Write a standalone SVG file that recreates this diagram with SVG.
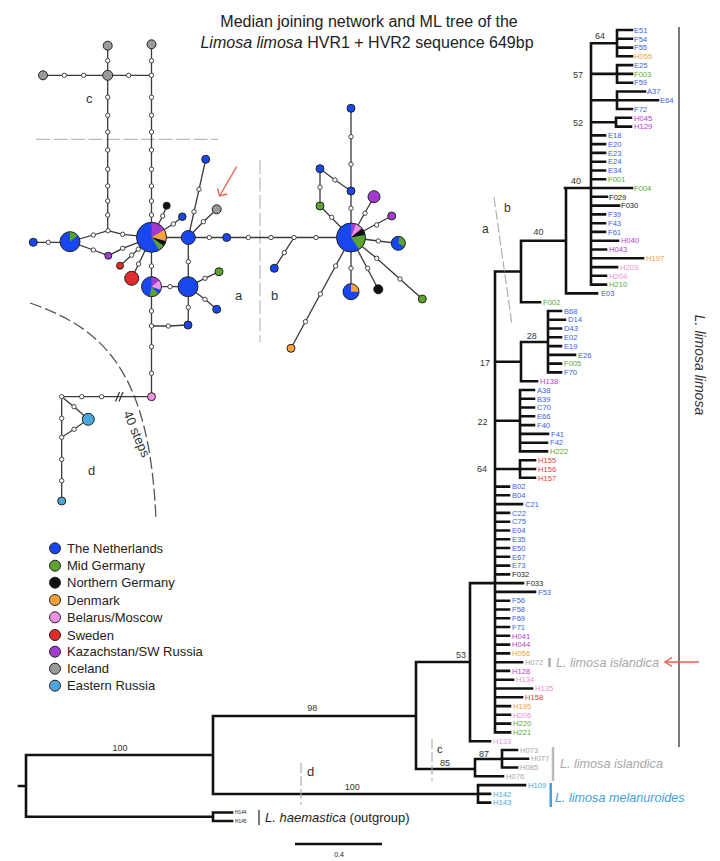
<svg xmlns="http://www.w3.org/2000/svg" width="720" height="861" viewBox="0 0 720 861">
<style>
text{font-family:"Liberation Sans",Arial,sans-serif}
.e{stroke:#3a3a3a;stroke-width:1.3;fill:none}
.m{fill:#fff;stroke:#333;stroke-width:0.9}
.n{stroke:#222;stroke-width:1}
.tr{stroke:#111;stroke-width:2.6;fill:none;stroke-linecap:square}
.lf{font-size:7.6px}
.bs{font-size:9px;fill:#333;text-anchor:middle}
.gd{stroke:#bbb;stroke-width:1.2;fill:none;stroke-dasharray:14 3.5}
.td{stroke:#aaa;stroke-width:1.1;fill:none;stroke-dasharray:10 3}
.lab{font-size:13px;fill:#333}
.cb{fill:#1846f0}.cg{fill:#5ba52e}.ck{fill:#111}.co{fill:#f7a23b}.cp{fill:#f490e6}.cr{fill:#e32b2b}.cu{fill:#a43bd0}.cy{fill:#9a9a9a}.cl{fill:#4aa6dc}
.tb{fill:#3a62e6}.tg{fill:#5ca832}.tk{fill:#222}.to{fill:#f0a040}.tp{fill:#f08ee0}.tx{fill:#e04040}.tu{fill:#b040cc}.ty{fill:#a8a8a8}.tl{fill:#4aa6dc}
</style>
<rect width="720" height="861" fill="#fff"/>

<g id="title" fill="#222">
<text x="369" y="27" font-size="16" text-anchor="middle">Median joining network and ML tree of the</text>
<text x="367" y="48" font-size="16" text-anchor="middle"><tspan font-style="italic">Limosa limosa</tspan> HVR1 + HVR2 sequence 649bp</text>
</g>

<!-- network guides -->
<g id="guides">
<line class="gd" x1="36" y1="139.3" x2="218" y2="139.3"/>
<line class="gd" x1="260" y1="160" x2="260" y2="342"/>
<path d="M30 303 C110 330 150 380 156 520" fill="none" stroke="#555" stroke-width="1.3" stroke-dasharray="12 4"/>
<text class="lab" x="86" y="103">c</text>
<text class="lab" x="235" y="300">a</text>
<text class="lab" x="271" y="300">b</text>
<text class="lab" x="88" y="475">d</text>
<text class="lab" transform="translate(123,413) rotate(67)">40 steps</text>
<line x1="236.7" y1="166.7" x2="219.5" y2="196" stroke="#e8604c" stroke-width="1.3"/>
<polyline points="227.2,194 219.5,196 217.6,188.3" fill="none" stroke="#e8604c" stroke-width="1.3"/>
</g>

<g id="network-edges">
<path class="e" d="M43 75.3H151 M107.7 45.7V230.7 M151.5 44.3V237.3 M108 230.7L93.3 235L70 241.7 M108 230.7L122.7 234.3L151.5 237.3 M70 242.3H33.3 M70 241.7L93.3 250L108.3 255.7L122.7 248.3L151.5 237.3 M151.5 237.3L162.7 216L166.7 205.7 M151.5 237.3L173.3 224L182.3 216.7 M151.5 237.5H351 M188.3 237.5L205.7 159.3 M188.3 237.5L203.3 221.7L216.7 209.3 M188.3 237.5V325 M188 286.7L205 278.3L219 271.7 M188 286.7L205 299.3L216.7 309.3 M188 325L168.3 326H151.5 M188 286.7H151.5 M151.5 237.3V396.7 M151.5 237.3L120 265.7 M151.5 237.3L131.7 278.3"/>
<path class="e" d="M151.5 396.7H61.7V501 M61.7 396.7L74 406.7L88.3 419.3 M61.7 437.3L74 429.3L88.3 419.3"/>
<path class="e" d="M115.5 401.5L119.5 392 M119 401.5L123 392"/>
<path class="e" d="M294 237.5L274.3 268.3 M351 237.5V108.3 M351 191L335 180L320 168.7V206L351 237.5 M351 237.5L374 196.7 M351 237.5L391.7 216 M351 237.5L378.3 241L398.3 243.3 M351 237.5L376.7 258.3L422.3 299 M351 237.5L378.3 289.3 M351 237.5V291.7 M351 237.5L291 348.3"/>
</g>

<g id="median-vectors">
<circle class="m" r="2.2" cx="64.3" cy="75.3"/><circle class="m" r="2.2" cx="83.7" cy="75.3"/><circle class="m" r="2.2" cx="128.7" cy="75.3"/><circle class="m" r="2.2" cx="151.5" cy="75.3"/>
<circle class="m" r="2.2" cx="107.7" cy="60.7"/><circle class="m" r="2.2" cx="151.5" cy="60.7"/>
<circle class="m" r="2.2" cx="107.7" cy="97.3"/><circle class="m" r="2.2" cx="107.7" cy="115.3"/><circle class="m" r="2.2" cx="107.7" cy="132"/><circle class="m" r="2.2" cx="107.7" cy="150"/><circle class="m" r="2.2" cx="107.7" cy="169.3"/><circle class="m" r="2.2" cx="107.7" cy="186"/><circle class="m" r="2.2" cx="107.7" cy="201"/><circle class="m" r="2.2" cx="107.7" cy="215"/><circle class="m" r="2.2" cx="108" cy="230.7"/>
<circle class="m" r="2.2" cx="151.5" cy="97.3"/><circle class="m" r="2.2" cx="151.5" cy="115.3"/><circle class="m" r="2.2" cx="151.5" cy="132"/><circle class="m" r="2.2" cx="151.5" cy="150"/><circle class="m" r="2.2" cx="151.5" cy="169.3"/><circle class="m" r="2.2" cx="151.5" cy="186"/><circle class="m" r="2.2" cx="151.5" cy="201"/><circle class="m" r="2.2" cx="151.5" cy="215"/>
<circle class="m" r="2.2" cx="93.3" cy="235"/><circle class="m" r="2.2" cx="122.7" cy="234.3"/><circle class="m" r="2.2" cx="48.3" cy="242.3"/><circle class="m" r="2.2" cx="93.3" cy="250"/><circle class="m" r="2.2" cx="122.7" cy="248.3"/>
<circle class="m" r="2.2" cx="162.7" cy="216"/><circle class="m" r="2.2" cx="173.3" cy="224"/><circle class="m" r="2.2" cx="194" cy="211.7"/><circle class="m" r="2.2" cx="199" cy="189.3"/><circle class="m" r="2.2" cx="203.3" cy="221.7"/>
<circle class="m" r="2.2" cx="209.3" cy="237.5"/><circle class="m" r="2.2" cx="248.3" cy="237.5"/><circle class="m" r="2.2" cx="188.3" cy="261.7"/><circle class="m" r="2.2" cx="205" cy="278.3"/><circle class="m" r="2.2" cx="205" cy="299.3"/><circle class="m" r="2.2" cx="188.3" cy="307.3"/><circle class="m" r="2.2" cx="168.3" cy="326"/><circle class="m" r="2.2" cx="151.5" cy="326"/><circle class="m" r="2.2" cx="170" cy="286.7"/><circle class="m" r="2.2" cx="151.5" cy="266"/><circle class="m" r="2.2" cx="151.5" cy="311"/>
<circle class="m" r="2.2" cx="138.3" cy="249.2"/><circle class="m" r="2.2" cx="131.7" cy="255.2"/><circle class="m" r="2.2" cx="138.6" cy="264"/>
<circle class="m" r="2.2" cx="151.5" cy="346.7"/><circle class="m" r="2.2" cx="151.5" cy="373.3"/><circle class="m" r="2.2" cx="101.7" cy="396.7"/><circle class="m" r="2.2" cx="81.7" cy="396.7"/><circle class="m" r="2.2" cx="61.7" cy="396.7"/><circle class="m" r="2.2" cx="74" cy="406.7"/><circle class="m" r="2.2" cx="61.7" cy="418.3"/><circle class="m" r="2.2" cx="61.7" cy="437.3"/><circle class="m" r="2.2" cx="74" cy="429.3"/><circle class="m" r="2.2" cx="61.7" cy="459.3"/><circle class="m" r="2.2" cx="61.7" cy="480.7"/>
<circle class="m" r="2.2" cx="271" cy="237.5"/><circle class="m" r="2.2" cx="294" cy="237.5"/><circle class="m" r="2.2" cx="316" cy="237.5"/><circle class="m" r="2.2" cx="284.3" cy="252.7"/><circle class="m" r="2.2" cx="351" cy="208.3"/><circle class="m" r="2.2" cx="351" cy="164.3"/><circle class="m" r="2.2" cx="351" cy="136.7"/><circle class="m" r="2.2" cx="335" cy="180"/><circle class="m" r="2.2" cx="320" cy="187.3"/><circle class="m" r="2.2" cx="331.7" cy="217.3"/>
<circle class="m" r="2.2" cx="365" cy="213.3"/><circle class="m" r="2.2" cx="376.7" cy="225"/><circle class="m" r="2.2" cx="378.3" cy="241"/><circle class="m" r="2.2" cx="376.7" cy="258.3"/><circle class="m" r="2.2" cx="400" cy="279"/><circle class="m" r="2.2" cx="367.7" cy="268.3"/><circle class="m" r="2.2" cx="351" cy="268.3"/><circle class="m" r="2.2" cx="335.6" cy="266"/><circle class="m" r="2.2" cx="320.4" cy="294"/><circle class="m" r="2.2" cx="305.4" cy="321.7"/>
</g>

<g id="haplotypes">
<circle id="hc1" class="n cy" cx="43" cy="75.3" r="4.5"/>
<circle id="hc2" class="n cy" cx="107.7" cy="45.7" r="4.5"/>
<circle id="hc3" class="n cy" cx="151.5" cy="44.3" r="4.5"/>
<circle id="hc4" class="n cy" cx="107.7" cy="75.3" r="5"/>
<circle id="ha-ice" class="n cy" cx="216.7" cy="209.3" r="4.5"/>
<circle class="n cb" cx="33.3" cy="242.3" r="4"/>
<circle class="n cb" cx="182.3" cy="216.7" r="3.8"/>
<circle class="n cb" cx="188.3" cy="237.5" r="7"/>
<circle class="n cb" cx="205.7" cy="159.3" r="4"/>
<circle class="n cb" cx="226.7" cy="237.5" r="4"/>
<circle class="n cb" cx="188" cy="286.7" r="10"/>
<circle class="n cb" cx="216.7" cy="309.3" r="4"/>
<circle class="n cb" cx="188" cy="325" r="4"/>
<circle class="n cb" cx="274.3" cy="268.3" r="4"/>
<circle class="n cb" cx="351" cy="191" r="4"/>
<circle class="n cb" cx="351" cy="108.3" r="4"/>
<circle class="n cb" cx="320" cy="168.7" r="4"/>
<circle class="n cg" cx="219" cy="271.7" r="4"/>
<circle class="n cg" cx="320" cy="206" r="4"/>
<circle class="n cg" cx="422.3" cy="299" r="4"/>
<circle class="n ck" cx="166.7" cy="205.7" r="3.5"/>
<circle class="n ck" cx="378.3" cy="289.3" r="4.5"/>
<circle class="n cu" cx="108.3" cy="255.7" r="3.5"/>
<circle class="n cu" cx="374" cy="196.7" r="6"/>
<circle class="n cu" cx="391.7" cy="216" r="4"/>
<circle class="n cr" cx="120" cy="265.7" r="3.5"/>
<circle class="n cr" cx="131.7" cy="278.3" r="7"/>
<circle class="n cp" cx="151.5" cy="396.7" r="4"/>
<circle class="n cl" cx="88.3" cy="419.3" r="6"/>
<circle class="n cl" cx="61.7" cy="501" r="4"/>
<circle class="n co" cx="291" cy="348.3" r="4"/>
<g id="pie-left">
<circle class="cb" cx="70" cy="241.7" r="10"/>
<path class="cg" d="M70 241.7L70 231.7A10 10 0 0 1 77.66 235.27Z"/>
<circle cx="70" cy="241.7" r="10" fill="none" stroke="#222"/>
</g>
<g id="pie-center-a">
<circle class="cb" cx="151.5" cy="237.3" r="15"/>
<path class="cu" d="M151.5 237.3L151.5 222.3A15 15 0 0 1 164.49 229.8Z"/>
<path class="co" d="M151.5 237.3L164.49 229.8A15 15 0 0 1 165.99 241.18Z"/>
<path class="ck" d="M151.5 237.3L165.99 241.18A15 15 0 0 1 163.79 245.9Z"/>
<path class="cg" d="M151.5 237.3L163.79 245.9A15 15 0 0 1 159 250.29Z"/>
<circle cx="151.5" cy="237.3" r="15" fill="none" stroke="#222"/>
</g>
<g id="pie-lower-a">
<circle class="cb" cx="151.5" cy="286.7" r="10"/>
<path class="cu" d="M151.5 286.7L151.5 276.7A10 10 0 0 1 159.16 280.27Z"/>
<path class="cp" d="M151.5 286.7L159.16 280.27A10 10 0 0 1 160.9 290.12Z"/>
<path class="cg" d="M151.5 286.7L158.57 293.77A10 10 0 0 1 149.76 296.55Z"/>
<circle cx="151.5" cy="286.7" r="10" fill="none" stroke="#222"/>
</g>
<g id="pie-center-b">
<circle class="cb" cx="351" cy="237.5" r="14.5"/>
<path class="cu" d="M351 237.5L351 223A14.5 14.5 0 0 1 355.96 223.87Z"/>
<path class="cp" d="M351 237.5L355.96 223.87A14.5 14.5 0 0 1 362.11 228.18Z"/>
<path class="ck" d="M351 237.5L362.11 228.18A14.5 14.5 0 0 1 365.28 234.98Z"/>
<path class="cg" d="M351 237.5L365.28 234.98A14.5 14.5 0 0 1 359.32 249.38Z"/>
<circle cx="351" cy="237.5" r="14.5" fill="none" stroke="#222"/>
</g>
<g id="pie-right-b">
<circle class="cb" cx="398.3" cy="243.3" r="7"/>
<path class="cg" d="M398.3 243.3L399.52 236.41A7 7 0 0 1 404.36 246.8Z"/>
<circle cx="398.3" cy="243.3" r="7" fill="none" stroke="#222"/>
</g>
<g id="pie-low-b">
<circle class="cb" cx="351" cy="291.7" r="8"/>
<path class="co" d="M351 291.7L351 283.7A8 8 0 0 1 359 291.7Z"/>
<circle cx="351" cy="291.7" r="8" fill="none" stroke="#222"/>
</g>
</g>

<g id="legend" font-size="13" fill="#222">
<circle class="n cb" cx="55" cy="548.3" r="5.5" stroke-width="1.2"/><text x="67" y="553">The Netherlands</text>
<circle class="n cg" cx="55" cy="565.7" r="5.5" stroke-width="1.2"/><text x="67" y="570.4">Mid Germany</text>
<circle class="n ck" cx="55" cy="582.7" r="5.5" stroke-width="1.2"/><text x="67" y="587.4">Northern Germany</text>
<circle class="n co" cx="55" cy="600" r="5.5" stroke-width="1.2"/><text x="67" y="604.7">Denmark</text>
<circle class="n cp" cx="55" cy="617.3" r="5.5" stroke-width="1.2"/><text x="67" y="622">Belarus/Moscow</text>
<circle class="n cr" cx="55" cy="635" r="5.5" stroke-width="1.2"/><text x="67" y="639.7">Sweden</text>
<circle class="n cu" cx="55" cy="651.7" r="5.5" stroke-width="1.2"/><text x="67" y="656.4">Kazachstan/SW Russia</text>
<circle class="n cy" cx="55" cy="668.7" r="5.5" stroke-width="1.2"/><text x="67" y="673.4">Iceland</text>
<circle class="n cl" cx="55" cy="685.7" r="5.5" stroke-width="1.2"/><text x="67" y="690.4">Eastern Russia</text>
</g>

<g id="tree-branches">
<path class="tr" d="M591 43.2V284.6 M591 43.2H617 M617 30V56.3 M617 30H632 M617 38.8H632 M617 47.6H632 M617 56.3H632
M591 73.9H617 M617 65.1V82.7 M617 65.1H632 M617 73.9H632 M617 82.7H632
M591 100.2H617 M617 91.5V109 M617 91.5H645 M617 100.2H658 M617 109H632
M591 122.2H616 M616 117.8V126.6 M616 117.8H631 M616 126.6H631
M591 135.4H605 M591 144.1H605 M591 152.9H605 M591 161.7H605 M591 170.5H605 M591 179.3H605
M565 188H632 M591 196.8H607 M591 205.6H619 M591 214.4H605 M591 223.2H605 M591 231.9H605 M591 240.7H618 M591 249.5H606 M591 258.3H643 M591 267.1H617 M591 275.8H606 M591 284.6H606
M566 188V293.4H597 M521 240.7H566 M521 240.7V302.2H540 M495 271.5H521 M495 271.5V732.4
M495 361.7H521 M521 342V381.2H537 M521 342H548 M548 311V372.4
M548 311H561 M548 319.7H565 M548 328.5H561 M548 337.3H561 M548 346.1H561 M548 354.9H575 M548 363.6H561 M548 372.4H561
M495 420.7H520 M520 390V451.4 M520 390H534 M520 398.8H534 M520 407.5H534 M520 416.3H534 M520 425.1H534 M520 433.9H548 M520 442.7H547 M520 451.4H547
M495 469H520 M520 460.2V477.8 M520 460.2H535 M520 469H535 M520 477.8H535
M495 486.6H509 M495 495.3H509 M495 504.1H522 M495 512.9H509 M495 521.7H509 M495 530.5H509 M495 539.2H509 M495 548H509 M495 556.8H509 M495 565.6H509 M495 574.4H509
M470 583.1H523 M495 591.9H535 M495 600.7H509 M495 609.5H509 M495 618.3H509 M495 627H509 M495 635.8H509 M495 644.6H509 M495 653.4H509 M495 662.2H522 M495 670.9H509 M495 679.7H513 M495 688.5H532 M495 697.3H522 M495 706.1H510 M495 714.8H510 M495 723.6H510 M495 732.4H510
M470 583.1V741.2H490 M416 662H470 M416 662V769H475 M475 759V776.3H503 M475 759H502 M502 750V767.5 M502 750H517 M502 758.7H528 M502 767.5H517
M213 716H416 M213 716V794H478 M478 785.1V802.6 M478 785.1H525 M478 793.9H490 M478 802.6H490
M26 755H213 M26 755V816.7H213 M19 786H26 M213 812.5V821 M213 812.5H232 M213 821H232"/>
<line x1="295" y1="844" x2="382" y2="844" stroke="#111" stroke-width="2.6"/>
<text x="339" y="857" font-size="7" text-anchor="middle" fill="#222">0.4</text>
</g>

<g id="tree-support">
<text class="bs" x="600" y="39">64</text>
<text class="bs" x="578" y="78">57</text>
<text class="bs" x="578" y="126">52</text>
<text class="bs" x="576" y="184">40</text>
<text class="bs" x="538.5" y="235">40</text>
<text class="bs" x="531.7" y="339">28</text>
<text class="bs" x="485" y="366">17</text>
<text class="bs" x="482.5" y="425">22</text>
<text class="bs" x="482" y="472">64</text>
<text class="bs" x="461" y="658">53</text>
<text class="bs" x="312.3" y="711">98</text>
<text class="bs" x="120" y="751">100</text>
<text class="bs" x="352.3" y="790">100</text>
<text class="bs" x="484" y="756.5">87</text>
<text class="bs" x="445" y="765.5">85</text>
</g>

<g id="tree-guides">
<line class="td" x1="494" y1="197" x2="512" y2="325"/>
<text x="482" y="233" font-size="12" fill="#333">a</text>
<text x="504" y="212" font-size="12" fill="#333">b</text>
<line class="td" x1="432" y1="739" x2="432" y2="781"/>
<text x="437" y="753" font-size="11" fill="#222">c</text>
<line class="td" x1="301" y1="763" x2="301" y2="805"/>
<text x="307" y="776" font-size="13" fill="#333">d</text>
</g>

<g id="leaves" class="lf">
<text class="tb" x="634" y="32.7">E51</text>
<text class="tb" x="634" y="41.5">F54</text>
<text class="tb" x="634" y="50.3">F55</text>
<text class="to" x="634" y="59">H055</text>
<text class="tb" x="634" y="67.8">E25</text>
<text class="tg" x="634" y="76.6">F003</text>
<text class="tb" x="634" y="85.4">F59</text>
<text class="tb" x="647" y="94.2">A37</text>
<text class="tb" x="660" y="102.9">E64</text>
<text class="tb" x="634" y="111.7">F72</text>
<text class="tu" x="634" y="120.5">H045</text>
<text class="tu" x="634" y="129.3">H129</text>
<text class="tb" x="608" y="138.1">E18</text>
<text class="tb" x="608" y="146.8">E20</text>
<text class="tb" x="608" y="155.6">E23</text>
<text class="tb" x="608" y="164.4">E24</text>
<text class="tb" x="608" y="173.2">E34</text>
<text class="tg" x="608" y="182">F001</text>
<text class="tg" x="634" y="190.7">F004</text>
<text class="tk" x="609" y="199.5">F029</text>
<text class="tk" x="621" y="208.3">F030</text>
<text class="tb" x="608" y="217.1">F39</text>
<text class="tb" x="608" y="225.9">F43</text>
<text class="tb" x="608" y="234.6">F61</text>
<text class="tu" x="621" y="243.4">H040</text>
<text class="tu" x="609" y="252.2">H043</text>
<text class="to" x="646" y="261">H197</text>
<text class="tp" x="620" y="269.8">H203</text>
<text class="tp" x="609" y="278.5">H204</text>
<text class="tg" x="609" y="287.3">H210</text>
<text class="tb" x="601" y="296.1">E03</text>
<text class="tg" x="543" y="304.9">F002</text>
<text class="tb" x="564" y="313.7">B68</text>
<text class="tb" x="568" y="322.4">D14</text>
<text class="tb" x="564" y="331.2">D43</text>
<text class="tb" x="564" y="340">E02</text>
<text class="tb" x="564" y="348.8">E19</text>
<text class="tb" x="578" y="357.6">E26</text>
<text class="tg" x="564" y="366.3">F005</text>
<text class="tb" x="564" y="375.1">F70</text>
<text class="tu" x="540" y="383.9">H138</text>
<text class="tb" x="537" y="392.7">A38</text>
<text class="tb" x="537" y="401.5">B39</text>
<text class="tb" x="537" y="410.2">C70</text>
<text class="tb" x="537" y="419">E66</text>
<text class="tb" x="537" y="427.8">F40</text>
<text class="tb" x="551" y="436.6">F41</text>
<text class="tb" x="550" y="445.4">F42</text>
<text class="tg" x="550" y="454.1">H222</text>
<text class="tx" x="538" y="462.9">H155</text>
<text class="tx" x="538" y="471.7">H156</text>
<text class="tx" x="538" y="480.5">H157</text>
<text class="tb" x="512" y="489.3">B02</text>
<text class="tb" x="512" y="498">B04</text>
<text class="tb" x="525" y="506.8">C21</text>
<text class="tb" x="512" y="515.6">C22</text>
<text class="tb" x="512" y="524.4">C75</text>
<text class="tb" x="512" y="533.2">E04</text>
<text class="tb" x="512" y="541.9">E35</text>
<text class="tb" x="512" y="550.7">E50</text>
<text class="tb" x="512" y="559.5">E67</text>
<text class="tb" x="512" y="568.3">E73</text>
<text class="tk" x="512" y="577.1">F032</text>
<text class="tk" x="526" y="585.8">F033</text>
<text class="tb" x="538" y="594.6">F53</text>
<text class="tb" x="512" y="603.4">F56</text>
<text class="tb" x="512" y="612.2">F58</text>
<text class="tb" x="512" y="621">F69</text>
<text class="tb" x="512" y="629.7">F71</text>
<text class="tu" x="512" y="638.5">H041</text>
<text class="tu" x="512" y="647.3">H044</text>
<text class="to" x="512" y="656.1">H056</text>
<text class="ty" x="525" y="664.9">H072</text>
<text class="tu" x="512" y="673.6">H128</text>
<text class="tp" x="516" y="682.4">H134</text>
<text class="tp" x="535" y="691.2">H135</text>
<text class="tx" x="525" y="700">H158</text>
<text class="to" x="513" y="708.8">H195</text>
<text class="tp" x="513" y="717.5">H206</text>
<text class="tg" x="513" y="726.3">H220</text>
<text class="tg" x="513" y="735.1">H221</text>
<text class="tp" x="493" y="743.9">H133</text>
<text class="ty" x="520" y="752.7">H073</text>
<text class="ty" x="531" y="761.4">H077</text>
<text class="ty" x="520" y="770.2">H085</text>
<text class="ty" x="506" y="779">H076</text>
<text class="tl" x="528" y="787.8">H109</text>
<text class="tl" x="493" y="796.6">H142</text>
<text class="tl" x="493" y="805.3">H143</text>
<text class="tk" x="235" y="814.2" font-size="4.8">H144</text>
<text class="tk" x="235" y="822.8" font-size="4.8">H145</text>
</g>

<g id="clade-labels">
<line x1="679" y1="27" x2="679" y2="747" stroke="#222" stroke-width="1.2"/>
<text transform="translate(695,365) rotate(90)" font-size="14" font-style="italic" fill="#333" text-anchor="middle">L. limosa limosa</text>
<line x1="549.5" y1="658" x2="549.5" y2="667" stroke="#aaa" stroke-width="2.5"/>
<text x="556" y="667" font-size="12.6" font-style="italic" fill="#a8a8a8">L. limosa islandica</text>
<line x1="699" y1="662" x2="665" y2="662" stroke="#e8604c" stroke-width="1.4"/>
<polyline points="672,657.5 665,662 672,666.5" fill="none" stroke="#e8604c" stroke-width="1.4"/>
<line x1="553" y1="747" x2="553" y2="781" stroke="#bbb" stroke-width="2.5"/>
<text x="560" y="768" font-size="12.6" font-style="italic" fill="#a8a8a8">L. limosa islandica</text>
<line x1="550.7" y1="783" x2="550.7" y2="807" stroke="#3fa0dd" stroke-width="2.5"/>
<text x="555" y="802" font-size="12.6" font-style="italic" fill="#3fa0dd">L. limosa melanuroides</text>
<line x1="259" y1="810" x2="259" y2="825" stroke="#222" stroke-width="1.2"/>
<text x="265" y="822" font-size="13" fill="#222"><tspan font-style="italic">L. haemastica</tspan> (outgroup)</text>
</g>
</svg>
